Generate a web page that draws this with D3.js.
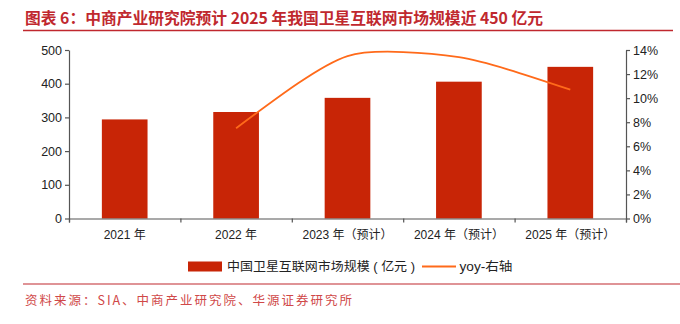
<!DOCTYPE html>
<html><head><meta charset="utf-8">
<script src="https://cdn.jsdelivr.net/npm/d3@7"></script>
<style>
html,body{margin:0;padding:0;background:#fff;}
svg{display:block;font-family:"Liberation Sans",Arial,"Noto Sans CJK SC",sans-serif;}
</style></head>
<body><svg id="c" width="680" height="324"></svg>
<script>
const categories = ["2021 年","2022 年","2023 年（预计）","2024 年（预计）","2025 年（预计）"];
const marketSize = [294, 316, 358, 406, 450];
const yoy = [null, 7.5, 13.5, 13.4, 10.7];
const leftTicks = [0,100,200,300,400,500];
const rightTicks = [0,2,4,6,8,10,12,14];
const barName = "中国卫星互联网市场规模 ( 亿元 )";
const lineName = "yoy-右轴";
const title = "图表 6：中商产业研究院预计 2025 年我国卫星互联网市场规模近 450 亿元";
const source = "资料来源：SIA、中商产业研究院、华源证券研究所";

(function(){
const svg = d3.select("#c");
const red = "#C0282E";
const barColor = "#C82506";
const lineColor = "#FF6A1A";
const axisColor = "#555";

// title
svg.append("text").attr("x",25).attr("y",24).attr("fill",red)
  .attr("font-size",15.5).attr("font-weight","bold")
  .attr("font-family","'Noto Sans CJK SC',sans-serif")
  .attr("textLength",518).attr("lengthAdjust","spacingAndGlyphs")
  .text(title);
svg.append("line").attr("x1",23).attr("x2",673).attr("y1",30.5).attr("y2",30.5)
  .attr("stroke",red).attr("stroke-width",1.5);

const mL = 69, mR = 626, mT = 50, mB = 218.5;
const x = d3.scaleBand().domain(categories).range([mL,mR]).paddingInner(0.59).paddingOuter(0.295);
const y = d3.scaleLinear().domain([0,500]).range([mB,mT]);
const y2 = d3.scaleLinear().domain([0,14]).range([mB,mT]);

// bars
svg.append("g").selectAll("rect").data(marketSize).join("rect")
  .attr("x",(d,i)=>x(categories[i])).attr("width",x.bandwidth())
  .attr("y",d=>y(d)).attr("height",d=>mB-y(d)).attr("fill",barColor);

// smoothed line (cardinal tangents inside, natural ends), like a spreadsheet smooth line
const pts = yoy.map((v,i)=>v==null?null:[x(categories[i])+x.bandwidth()/2, y2(v)]).filter(p=>p);
const n = pts.length, k = 0.7;
const m = pts.map((p,i)=>{
  if(i===0||i===n-1) return null;
  return [k*(pts[i+1][0]-pts[i-1][0])/2, k*(pts[i+1][1]-pts[i-1][1])/2];
});
m[0] = [(3*(pts[1][0]-pts[0][0])-m[1][0])/2, (3*(pts[1][1]-pts[0][1])-m[1][1])/2];
m[n-1] = [(3*(pts[n-1][0]-pts[n-2][0])-m[n-2][0])/2, (3*(pts[n-1][1]-pts[n-2][1])-m[n-2][1])/2];
const path = d3.path();
path.moveTo(pts[0][0],pts[0][1]);
for(let i=0;i<n-1;i++){
  path.bezierCurveTo(pts[i][0]+m[i][0]/3, pts[i][1]+m[i][1]/3,
    pts[i+1][0]-m[i+1][0]/3, pts[i+1][1]-m[i+1][1]/3, pts[i+1][0], pts[i+1][1]);
}
svg.append("path").attr("d",path.toString())
  .attr("fill","none").attr("stroke",lineColor).attr("stroke-width",1.8);

// axes
const gl = svg.append("g").attr("transform",`translate(${mL},0)`)
  .call(d3.axisLeft(y).tickValues(leftTicks).tickSize(4).tickSizeOuter(0));
const gr = svg.append("g").attr("transform",`translate(${mR},0)`)
  .call(d3.axisRight(y2).tickValues(rightTicks).tickSize(4).tickSizeOuter(0).tickFormat(d=>d+"%"));
const xb = d3.scaleLinear().domain([0,5]).range([mL,mR]);
const gx = svg.append("g").attr("transform",`translate(0,${mB})`)
  .call(d3.axisBottom(xb).tickValues([0,1,2,3,4,5]).tickSize(4).tickFormat(""));
[gl,gr,gx].forEach(g=>{
  g.selectAll("path,line").attr("stroke",axisColor).attr("stroke-width",1.2);
  g.selectAll("text").attr("fill","#222").attr("font-size",12.5)
   .attr("font-family","'Liberation Sans',Arial,sans-serif");
});
gl.selectAll("text").attr("x",-7);
gr.selectAll("text").attr("x",7);
svg.append("g").selectAll("text").data(categories).join("text")
  .attr("x",d=>x(d)+x.bandwidth()/2).attr("y",239).attr("text-anchor","middle")
  .attr("font-size",12).attr("fill","#222").text(d=>d);

// legend
const lg = svg.append("g");
lg.append("rect").attr("x",188).attr("y",261.5).attr("width",34).attr("height",10).attr("fill",barColor);
lg.append("text").attr("x",227).attr("y",271).attr("font-size",12.5).attr("fill","#222")
  .attr("textLength",188).attr("lengthAdjust","spacingAndGlyphs").text(barName);
lg.append("line").attr("x1",422).attr("x2",456).attr("y1",266.5).attr("y2",266.5).attr("stroke",lineColor).attr("stroke-width",1.8);
lg.append("text").attr("x",459.5).attr("y",271).attr("font-size",12.5).attr("fill","#222")
  .attr("textLength",53).attr("lengthAdjust","spacingAndGlyphs").text(lineName);

// footer
svg.append("line").attr("x1",23).attr("x2",680).attr("y1",284).attr("y2",284)
  .attr("stroke",red).attr("stroke-width",1.2);
svg.append("text").attr("x",25).attr("y",305).attr("fill","#D04848").attr("font-size",12.5)
  .attr("font-family","'Noto Sans CJK SC',sans-serif")
  .attr("textLength",327).attr("lengthAdjust","spacing")
  .text(source);
})();
</script></body></html>
